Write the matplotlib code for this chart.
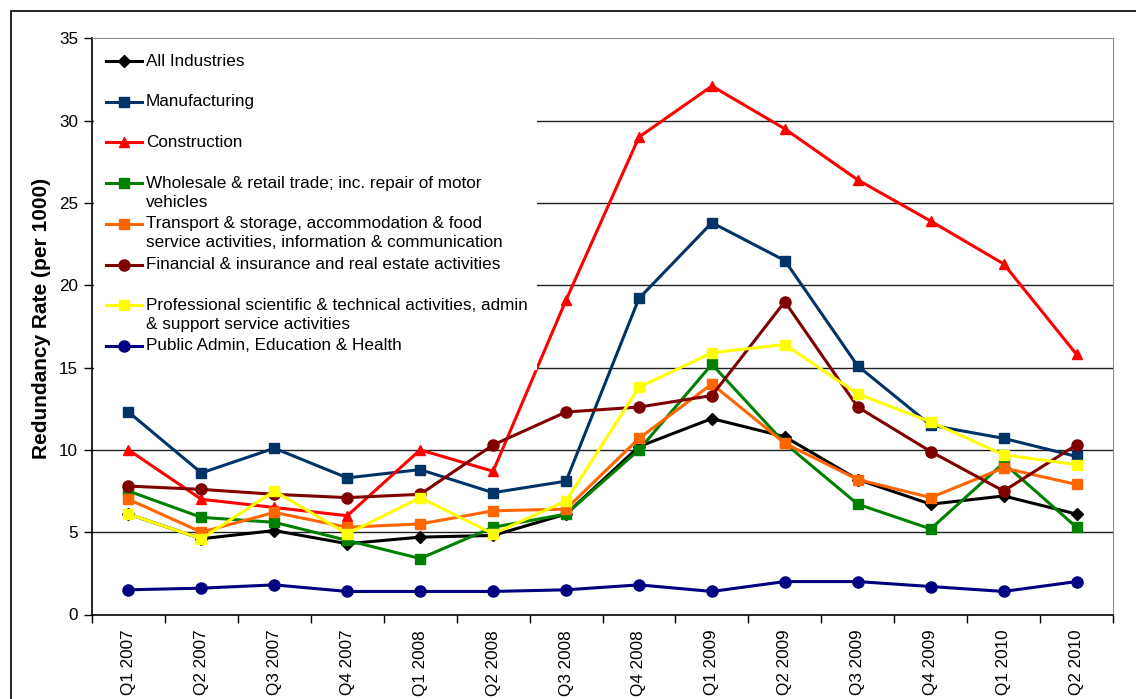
import matplotlib
matplotlib.use("Agg")
import matplotlib.pyplot as plt
from matplotlib.patches import Rectangle
from matplotlib.lines import Line2D

plt.rcParams['font.family'] = ['Liberation Sans', 'DejaVu Sans']

# data
quarters = ["Q1 2007", "Q2 2007", "Q3 2007", "Q4 2007", "Q1 2008", "Q2 2008", "Q3 2008",
            "Q4 2008", "Q1 2009", "Q2 2009", "Q3 2009", "Q4 2009", "Q1 2010", "Q2 2010"]

all_industries = [6.1, 4.6, 5.1, 4.3, 4.7, 4.8, 6.1, 10.2, 11.9, 10.8, 8.2, 6.7, 7.2, 6.1]
manufacturing = [12.3, 8.6, 10.1, 8.3, 8.8, 7.4, 8.1, 19.2, 23.8, 21.5, 15.1, 11.5, 10.7, 9.6]
construction = [10.0, 7.0, 6.5, 6.0, 10.0, 8.7, 19.1, 29.0, 32.1, 29.5, 26.4, 23.9, 21.3, 15.8]
wholesale = [7.5, 5.9, 5.6, 4.5, 3.4, 5.3, 6.1, 10.0, 15.2, 10.4, 6.7, 5.2, 9.2, 5.3]
transport = [7.0, 5.0, 6.2, 5.3, 5.5, 6.3, 6.4, 10.7, 14.0, 10.4, 8.2, 7.1, 8.9, 7.9]
financial = [7.8, 7.6, 7.3, 7.1, 7.3, 10.3, 12.3, 12.6, 13.3, 19.0, 12.6, 9.9, 7.5, 10.3]
professional = [6.1, 4.6, 7.5, 4.9, 7.1, 4.9, 6.9, 13.8, 15.9, 16.4, 13.4, 11.7, 9.7, 9.1]
public_admin = [1.5, 1.6, 1.8, 1.4, 1.4, 1.4, 1.5, 1.8, 1.4, 2.0, 2.0, 1.7, 1.4, 2.0]

series = [
    ("All Industries", all_industries, "#000000", "D", 6),
    ("Manufacturing", manufacturing, "#003366", "s", 7),
    ("Construction", construction, "#FF0000", "^", 7.5),
    ("Wholesale & retail trade; inc. repair of motor\nvehicles", wholesale, "#008000", "s", 7),
    ("Transport & storage, accommodation & food\nservice activities, information & communication", transport, "#FF6600", "s", 7),
    ("Financial & insurance and real estate activities", financial, "#800000", "o", 8),
    ("Professional scientific & technical activities, admin\n& support service activities", professional, "#FFFF00", "s", 7),
    ("Public Admin, Education & Health", public_admin, "#000080", "o", 8),
]

fig = plt.figure(figsize=(11.36, 6.99), dpi=100)
ax = fig.add_axes([92 / 1136, 1 - 614.5 / 699, 1021 / 1136, 576.2 / 699])

# outer chart border
fig.patches.append(Rectangle((11 / 1136, -0.1), 1.2, 1 - 11 / 699 + 0.1, transform=fig.transFigure,
                             fill=False, edgecolor="black", linewidth=1.2))

x = list(range(len(quarters)))
for name, vals, color, marker, ms in series:
    ax.plot(x, vals, color=color, marker=marker, markersize=ms, linewidth=2.2, zorder=3)

ax.set_xlim(-0.5, len(quarters) - 0.5)
ax.set_ylim(0, 35)
ax.set_yticks(range(0, 36, 5))
ax.set_xticks(x)
ax.set_xticklabels(quarters, rotation=90, fontsize=12.3)
ax.set_xticks([i - 0.5 for i in range(len(quarters) + 1)], minor=True)
ax.tick_params(axis="x", which="major", length=0, pad=11)
ax.tick_params(axis="x", which="minor", length=6, width=1)
ax.tick_params(axis="y", length=6, width=1, labelsize=12.3, pad=4)
ax.set_ylabel("Redundancy Rate (per 1000)", fontsize=15, fontweight="bold")
ax.yaxis.set_label_coords(-0.04, 0.513)

for v in range(5, 31, 5):
    ax.axhline(v, color="#202020", linewidth=1, zorder=1)

for side in ["top", "right"]:
    ax.spines[side].set_color("#909090")
for side in ["left", "bottom"]:
    ax.spines[side].set_color("black")
    ax.spines[side].set_linewidth(1.2)

# legend box (white, covers the lines behind it)
ax.add_patch(Rectangle((0.002, 0.4245), 0.434, 0.575, transform=ax.transAxes,
                       facecolor="white", edgecolor="none", zorder=4))
step = 40.7 / 576.2
line_gap = 19 / 576.2
for i, (name, vals, color, marker, ms) in enumerate(series):
    y0 = 0.9606 - i * step
    ax.add_line(Line2D([0.0137, 0.049], [y0, y0], transform=ax.transAxes, color=color,
                       linewidth=2.2, marker=None, zorder=5))
    ax.add_line(Line2D([0.031], [y0], transform=ax.transAxes, color=color, marker=marker,
                       markersize=ms, linestyle="none", zorder=6))
    for k, part in enumerate(name.split("\n")):
        ax.text(0.053, y0 - k * line_gap, part, transform=ax.transAxes, fontsize=12.3,
                va="center", ha="left", zorder=6)

fig.savefig("out.png", dpi=100)
